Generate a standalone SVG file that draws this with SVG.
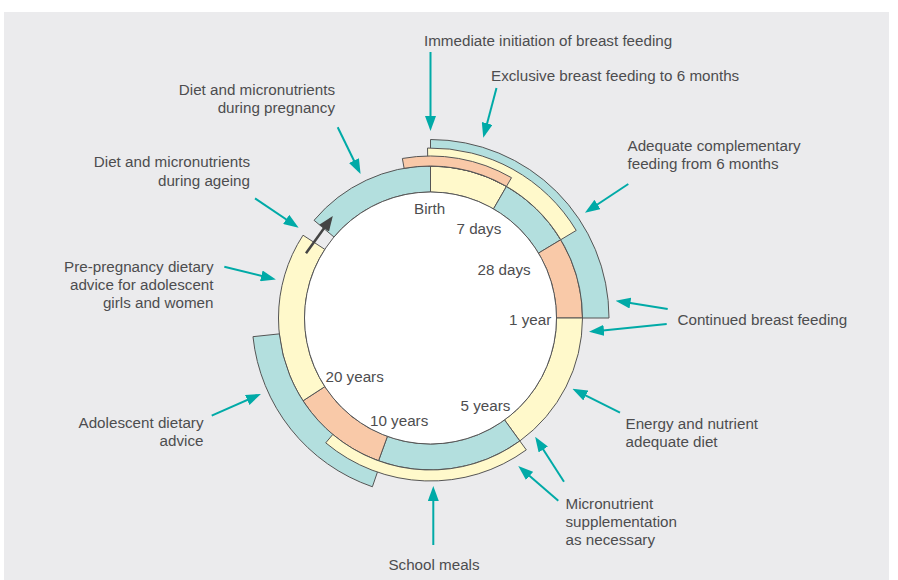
<svg xmlns="http://www.w3.org/2000/svg" width="898" height="580" viewBox="0 0 898 580">
<defs>
<style>
.bg{fill:#EBEBED}
.t{fill:#B3DFDE;stroke:#555;stroke-width:1}
.y{fill:#FFF9CB;stroke:#555;stroke-width:1}
.s{fill:#F9C9A8;stroke:#555;stroke-width:1}
.c{fill:#fff;stroke:#555;stroke-width:1}
text{font-family:"Liberation Sans",Arial,sans-serif;font-size:15.2px;fill:#4D4D4F}
.e{text-anchor:end}
.m{text-anchor:middle}
.a{stroke:#00AAA7;stroke-width:2;fill:none;marker-end:url(#ah)}
.d{stroke:#444;stroke-width:2.5;fill:none;marker-end:url(#dh)}
</style>
<marker id="ah" markerUnits="userSpaceOnUse" markerWidth="15" markerHeight="11" refX="11" refY="5.5" orient="auto">
<path d="M0,0 L15,5.5 L0,11 Z" fill="#00AAA7"/>
</marker>
<marker id="dh" markerUnits="userSpaceOnUse" markerWidth="15" markerHeight="12" refX="11" refY="6" orient="auto">
<path d="M0,0 L15,6 L0,12 Z" fill="#444"/>
</marker>
</defs>
<rect class="bg" x="4" y="12" width="885" height="568"/>

<g id="ring">
<path class="t" d="M314.06,220.30 A152,152 0 0 1 430.5,166 L430.5,192 A126,126 0 0 0 333.98,237.01 Z"/>
<path class="y" d="M430.5,166 A152,152 0 0 1 506.5,186.36 L493.5,208.88 A126,126 0 0 0 430.5,192 Z"/>
<path class="t" d="M506.5,186.36 A152,152 0 0 1 560.79,239.71 L538.5,253.1 A126,126 0 0 0 493.5,208.88 Z"/>
<path class="s" d="M560.79,239.71 A152,152 0 0 1 582.5,318 L556.5,318 A126,126 0 0 0 538.5,253.1 Z"/>
<path class="y" d="M582.5,318 A152,152 0 0 1 519.84,440.97 L504.56,419.94 A126,126 0 0 0 556.5,318 Z"/>
<path class="t" d="M519.84,440.97 A152,152 0 0 1 378.51,460.83 L387.41,436.4 A126,126 0 0 0 504.56,419.94 Z"/>
<path class="s" d="M378.51,460.83 A152,152 0 0 1 303.02,400.79 L324.83,386.62 A126,126 0 0 0 387.41,436.4 Z"/>
<path class="y" d="M303.02,400.79 A152,152 0 0 1 303.02,235.21 L324.83,249.38 A126,126 0 0 0 324.83,386.62 Z"/>
<circle class="c" cx="430.5" cy="318" r="126"/>
</g>

<g id="continued-breast-feeding-band">
<path class="t" d="M430.5,139.5 A178.5,178.5 0 0 1 609,318 L582.5,318 A152,152 0 0 0 430.5,166 Z"/>
</g>
<g id="exclusive-breast-feeding-band">
<path class="y" d="M427.53,148.03 A170,170 0 0 1 576.22,230.44 L560.79,239.71 A152,152 0 0 0 427.85,166.02 Z"/>
</g>
<g id="immediate-initiation-band">
<path class="s" d="M402.37,158.46 A162,162 0 0 1 511.5,177.7 L506.5,186.36 A152,152 0 0 0 404.11,168.31 Z"/>
</g>
<g id="adolescent-band">
<path class="t" d="M372.39,486.78 A178.5,178.5 0 0 1 252.98,336.66 L279.33,333.89 A152,152 0 0 0 381.01,461.72 Z"/>
</g>
<g id="school-meals-band">
<path class="y" d="M526.31,449.87 A163,163 0 0 1 325.73,442.86 L332.8,434.44 A152,152 0 0 0 519.84,440.97 Z"/>
</g>

<g id="ring-labels">
<text x="414" y="213.5">Birth</text>
<text x="456.5" y="234">7 days</text>
<text x="477.5" y="274.5">28 days</text>
<text x="509" y="325">1 year</text>
<text x="460.5" y="411">5 years</text>
<text x="370" y="426">10 years</text>
<text x="325.5" y="382">20 years</text>
</g>

<g id="label-immediate"><text x="424" y="46">Immediate initiation of breast feeding</text></g>
<g id="label-exclusive"><text x="491" y="81">Exclusive breast feeding to 6 months</text></g>
<g id="label-pregnancy"><text class="e" x="335" y="95">Diet and micronutrients</text><text class="e" x="335" y="113">during pregnancy</text></g>
<g id="label-ageing"><text class="e" x="250" y="167">Diet and micronutrients</text><text class="e" x="250" y="185.5">during ageing</text></g>
<g id="label-prepregnancy"><text class="e" x="213.5" y="271.5">Pre-pregnancy dietary</text><text class="e" x="213.5" y="289.5">advice for adolescent</text><text class="e" x="213.5" y="307.5">girls and women</text></g>
<g id="label-adolescent"><text class="e" x="203.5" y="428">Adolescent dietary</text><text class="e" x="203.5" y="446">advice</text></g>
<g id="label-complementary"><text x="627.5" y="150.5">Adequate complementary</text><text x="627.5" y="168.5">feeding from 6 months</text></g>
<g id="label-continued"><text x="677.5" y="325">Continued breast feeding</text></g>
<g id="label-energy"><text x="625.5" y="429">Energy and nutrient</text><text x="625.5" y="447">adequate diet</text></g>
<g id="label-micronutrient"><text x="565.5" y="509">Micronutrient</text><text x="565.5" y="527">supplementation</text><text x="565.5" y="545">as necessary</text></g>
<g id="label-school"><text class="m" x="434" y="570">School meals</text></g>

<g id="connectors">
<line class="a" x1="430.5" y1="52" x2="430.5" y2="127"/>
<line class="a" x1="496.5" y1="88" x2="484.3" y2="134"/>
<line class="a" x1="337.7" y1="127.3" x2="358.8" y2="170.5"/>
<line class="a" x1="255" y1="198.3" x2="295.3" y2="225.5"/>
<line class="a" x1="628.3" y1="184" x2="588.3" y2="210.5"/>
<line class="a" x1="667.7" y1="309" x2="619.5" y2="301.3"/>
<line class="a" x1="666.7" y1="324" x2="593" y2="331.4"/>
<line class="a" x1="224.3" y1="266.7" x2="272" y2="278.5"/>
<line class="a" x1="211.7" y1="415.7" x2="257.3" y2="395.5"/>
<line class="a" x1="620" y1="412.7" x2="576" y2="390.6"/>
<line class="a" x1="564" y1="481.7" x2="537.3" y2="440.2"/>
<line class="a" x1="558.3" y1="500.7" x2="521.3" y2="468.7"/>
<line class="a" x1="433.3" y1="545" x2="433.3" y2="490"/>
<line class="d" x1="306" y1="253.3" x2="330.5" y2="219.2"/>
</g>
</svg>
